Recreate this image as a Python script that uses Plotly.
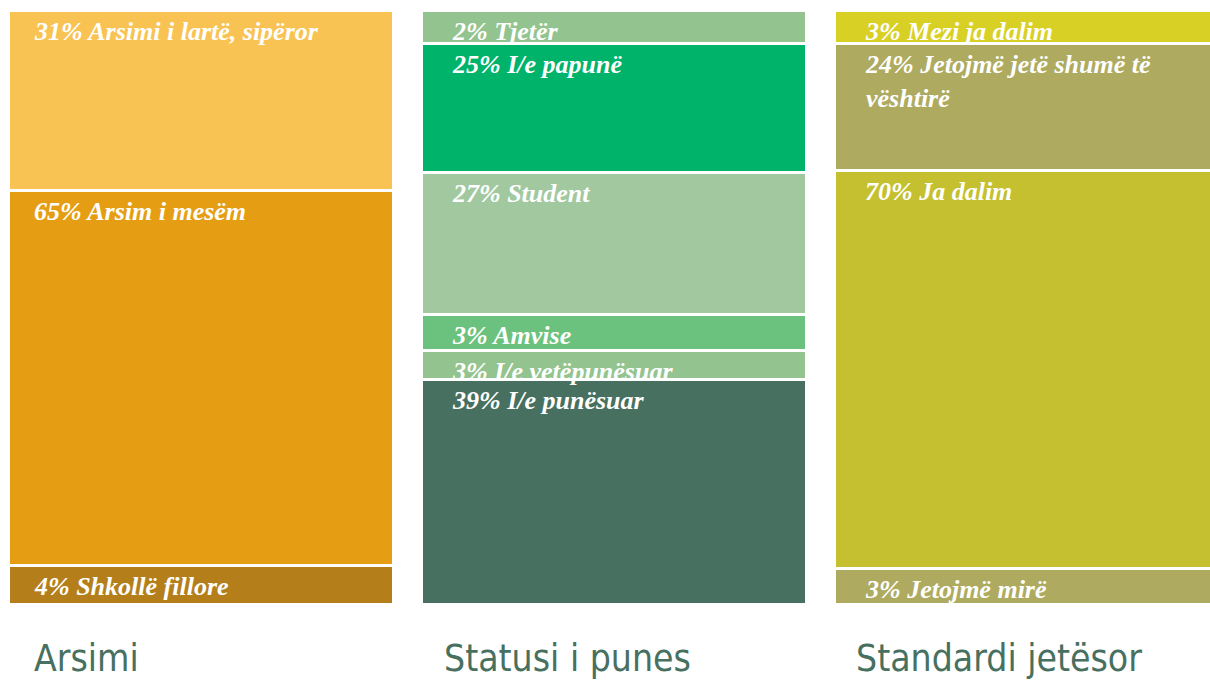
import plotly.graph_objects as go

# ---- data (bottom to top within each column) ----
groups = ["Arsimi", "Statusi i punes", "Standardi jetësor"]

arsimi_labels = ["Shkollë fillore", "Arsim i mesëm", "Arsimi i lartë, sipëror"]
arsimi_pct = [4, 65, 31]
arsimi_size = [6.5, 63.2, 30.4]          # displayed segment share
arsimi_colors = ["#B47F1B", "#E59E13", "#F9C353"]

statusi_labels = ["I/e punësuar", "I/e vetëpunësuar", "Amvise", "Student", "I/e papunë", "Tjetër"]
statusi_pct = [39, 3, 3, 27, 25, 2]
statusi_size = [37.8, 4.9, 6.0, 23.9, 21.7, 5.5]
statusi_colors = ["#477060", "#93C48F", "#6BC27E", "#A2C8A0", "#00B36B", "#93C48F"]

standardi_labels = ["Jetojmë mirë", "Ja dalim", "Jetojmë jetë shumë të<br>vështirë", "Mezi ja dalim"]
standardi_pct = [3, 70, 24, 3]
standardi_size = [6.1, 67.0, 21.4, 5.5]
standardi_colors = ["#AEAB60", "#C4C030", "#AEAB60", "#D9D026"]

columns = [
    (arsimi_labels, arsimi_pct, arsimi_size, arsimi_colors),
    (statusi_labels, statusi_pct, statusi_size, statusi_colors),
    (standardi_labels, standardi_pct, standardi_size, standardi_colors),
]

BAR_W = 0.932
LABEL_DX = [-0.41, -0.398, -0.398]
TITLE_DX = [-0.41, -0.417, -0.42]
TITLE_COLOR = "#477060"
TITLE_FONT = "'Liberation Sans Narrow', 'DejaVu Sans Condensed', 'Roboto Condensed', 'Open Sans', sans-serif"

fig = go.Figure()
annotations = []

for i, (labels, pcts, sizes, colors) in enumerate(columns):
    total = sum(sizes)
    cum = 0.0
    for lab, p, s, c in zip(labels, pcts, sizes, colors):
        h = s / total * 100.0
        fig.add_trace(go.Bar(
            x=[i], y=[h], width=BAR_W,
            marker=dict(color=c, line=dict(color="white", width=3)),
            hoverinfo="skip", showlegend=False,
        ))
        cum += h
        annotations.append(dict(
            x=i + LABEL_DX[i], y=min(round(cum, 6), 99.999), xref="x", yref="y",
            xanchor="left", yanchor="top", align="left",
            text=f"{p}% {lab}", showarrow=False, yshift=-4,
            font=dict(family="Liberation Serif", size=26, color="white",
                      weight="bold", style="italic"),
        ))
    annotations.append(dict(
        x=i + TITLE_DX[i], y=0, xref="x", yref="paper",
        xanchor="left", yanchor="top", text=groups[i], showarrow=False,
        yshift=-30,
        font=dict(family=TITLE_FONT, size=37, color=TITLE_COLOR),
    ))

fig.update_layout(
    barmode="stack",
    width=1210, height=680,
    margin=dict(l=0, r=0, t=11, b=75),
    paper_bgcolor="white", plot_bgcolor="white",
    xaxis=dict(range=[-0.4884, 2.4414], visible=False, fixedrange=True),
    yaxis=dict(range=[0, 100], visible=False, fixedrange=True),
    annotations=annotations,
    bargap=0,
)

fig.write_html("out.html", config={"displayModeBar": False},
               post_script="document.body.style.margin='0';document.body.style.overflow='hidden';")
